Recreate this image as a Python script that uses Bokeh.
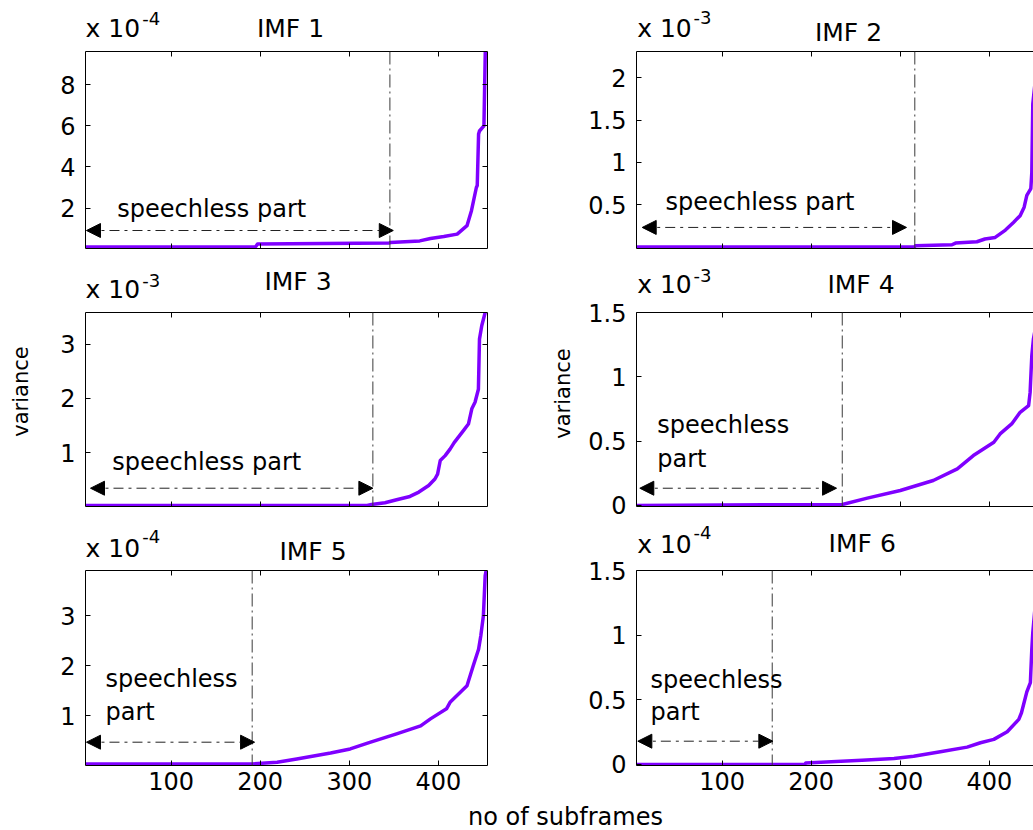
import math
from bokeh.plotting import figure
from bokeh.models import Range1d, FixedTicker, Label, Arrow, NormalHead, Span, LinearAxis
from bokeh.layouts import column, row
from bokeh.embed import file_html
from bokeh.resources import INLINE

# ---------------- data ----------------
x_ticks = [100, 200, 300, 400]
x_tick_labels = ["100", "200", "300", "400"]

titles = ["IMF 1", "IMF 2", "IMF 3", "IMF 4", "IMF 5", "IMF 6"]
exponents = ["-4", "-3", "-3", "-3", "-4", "-4"]

# IMF 1 (x 1e-4)
imf1_x = [4, 195, 197, 345, 346, 379, 391, 406, 421, 432, 437, 442.5, 443.5, 445, 446, 451, 452.5]
imf1_y = [0.1, 0.12, 0.25, 0.3, 0.32, 0.40, 0.52, 0.61, 0.73, 1.14, 1.87, 3.0, 3.1, 5.6, 5.75, 6.0, 9.6]
# IMF 2 (x 1e-3)
imf2_x = [4, 316, 317, 358, 362, 386, 395, 406.5, 418, 427, 434.5, 439, 442, 446.5, 447.6, 448.7, 455]
imf2_y = [0.0, 0.0, 0.014, 0.026, 0.046, 0.062, 0.094, 0.113, 0.2, 0.29, 0.37, 0.47, 0.61, 0.69, 0.88, 1.69, 2.31]
# IMF 3 (x 1e-3)
imf3_x = [4, 320, 325, 340, 353, 368, 378, 389, 396, 399, 402, 407.5, 413, 417.6, 428, 433.6, 437.4, 441, 444.8, 446, 448.6, 452.4]
imf3_y = [0.033, 0.033, 0.051, 0.083, 0.14, 0.20, 0.28, 0.40, 0.52, 0.61, 0.86, 0.95, 1.07, 1.19, 1.41, 1.53, 1.81, 1.93, 2.17, 3.09, 3.34, 3.58]
# IMF 4 (x 1e-3)
imf4_x = [4, 235, 263, 300, 337, 364, 382, 405, 412, 425, 434.5, 444, 445.7, 447.6, 449.4, 455]
imf4_y = [0.0, 0.008, 0.057, 0.116, 0.194, 0.285, 0.388, 0.491, 0.556, 0.634, 0.724, 0.776, 0.879, 1.164, 1.293, 1.5]
# IMF 5 (x 1e-4)
imf5_x = [4, 191, 219, 241, 279, 301, 323, 353, 380, 391, 409, 413, 432, 439, 445, 447.5, 450.4, 452.4, 453.5]
imf5_y = [0.04, 0.04, 0.075, 0.14, 0.26, 0.34, 0.47, 0.64, 0.80, 0.94, 1.14, 1.27, 1.60, 2.0, 2.33, 2.60, 3.0, 3.8, 3.9]
# IMF 6 (x 1e-4)
imf6_x = [4, 193, 194, 257, 293, 315, 345, 375, 390, 405, 420, 433, 436, 442, 446, 447.6, 448.7, 455]
imf6_y = [0.0, 0.0, 0.012, 0.033, 0.047, 0.064, 0.098, 0.134, 0.168, 0.194, 0.253, 0.349, 0.40, 0.561, 0.633, 0.89, 1.02, 1.5]

y_ticks = [[2, 4, 6, 8], [0.5, 1, 1.5, 2], [1, 2, 3], [0, 0.5, 1, 1.5], [1, 2, 3], [0, 0.5, 1, 1.5]]
y_tick_labels = [["2", "4", "6", "8"], ["0.5", "1", "1.5", "2"], ["1", "2", "3"],
                 ["0", "0.5", "1", "1.5"], ["1", "2", "3"], ["0", "0.5", "1", "1.5"]]
y_limits = [(0.03, 9.62), (-0.018, 2.31), (0.015, 3.58), (-0.008, 1.5), (0.01, 3.9), (-0.008, 1.5)]

# speechless-part boundary (frame index) and arrow
boundaries = [345.5, 316.3, 326.4, 234.9, 191.0, 156.3]
arrow_start = [5.1, 10.4, 9.6, 7.7, 5.1, 5.5]
arrow_end = [349.3, 307.0, 326.4, 228.5, 193.7, 157.0]
arrow_level = [0.906, 0.231, 0.351, 0.134, 0.475, 0.18]

series_x = [imf1_x, imf2_x, imf3_x, imf4_x, imf5_x, imf6_x]
series_y = [imf1_y, imf2_y, imf3_y, imf4_y, imf5_y, imf6_y]

# ---------------- styling / layout ----------------
FONT = "DejaVu Sans"
CURVE = "#7f00ff"
PAGE_W = 1033
COL_X = [0, 497]
COL_W = [497, 536]
COL_XR = [(4, 455), (4, 449.5)]
COL_BL = [85, 139]
COL_BR = [10, 0]
# per column: strip heights, row figure (top border, frame height, bottom border)
COL_STRIPS = [[49, 60, 60], [49, 50, 38]]
COL_ROWS = [[(2, 197, 2), (2, 194, 2), (2, 195, 35)],
            [(2, 197, 2), (12, 194, 13), (13, 195, 35)]]
BOTTOM_TOP = 800
BOTTOM_H = 30


def shift(size):
    # rendered alphabetic baseline sits ~0.29 em below the anchor
    return -0.29 * size


# strip texts: (column, strip, text, page_x, page_y_baseline, size, align)
strip_texts = [
    (0, 0, "x 10", 85, 35, 25, "left"), (0, 0, exponents[0], 141.7, 23, 18, "left"),
    (0, 0, titles[0], 290, 35, 25, "center"),
    (1, 0, "x 10", 636.7, 35, 25, "left"), (1, 0, exponents[1], 693, 22, 18, "left"),
    (1, 0, titles[1], 848, 39, 25, "center"),
    (0, 1, "x 10", 85, 296.7, 25, "left"), (0, 1, exponents[2], 141.7, 285, 18, "left"),
    (0, 1, titles[2], 297.5, 288, 25, "center"),
    (1, 1, "x 10", 636.7, 291.5, 25, "left"), (1, 1, exponents[3], 693, 280, 18, "left"),
    (1, 1, titles[3], 860.5, 291.5, 25, "center"),
    (0, 2, "x 10", 85, 555, 25, "left"), (0, 2, exponents[4], 141.7, 541.7, 18, "left"),
    (0, 2, titles[4], 312.5, 558, 25, "center"),
    (1, 2, "x 10", 636.7, 551, 25, "left"), (1, 2, exponents[5], 693, 537.7, 18, "left"),
    (1, 2, titles[5], 861.7, 550, 25, "center"),
]

# in-plot texts: (panel, text, page_x, page_y_baseline, size)
plot_texts = [
    (0, "speechless part", 116.7, 215, 24),
    (1, "speechless part", 665, 208.3, 24),
    (2, "speechless part", 111.7, 468.3, 24),
    (3, "speechless", 656.7, 431.7, 24), (3, "part", 656.7, 465, 24),
    (4, "speechless", 105, 685, 24), (4, "part", 105, 718.3, 24),
    (5, "speechless", 650, 686.7, 24), (5, "part", 650, 718.3, 24),
]

# y labels: (panel, page_x_center, page_y_center, size)
ylabels = [(2, 20, 391, 21), (3, 562, 393, 21)]


def style_axis(ax, ticks, labels, show, standoff):
    ax.ticker = FixedTicker(ticks=ticks)
    ax.major_tick_in = 5
    ax.major_tick_out = 0
    ax.minor_tick_line_color = None
    ax.axis_line_color = "black"
    ax.axis_line_width = 1
    ax.major_tick_line_color = "black"
    if show:
        ax.major_label_overrides = {t: l for t, l in zip(ticks, labels)}
        ax.major_label_text_font = FONT
        ax.major_label_text_font_size = "24px"
        ax.major_label_text_color = "black"
        ax.major_label_standoff = standoff
    else:
        ax.major_label_overrides = {t: "" for t in ticks}
        ax.major_label_text_font_size = "1px"
        ax.major_label_standoff = 0


def blank_figure(width, height):
    f = figure(width=width, height=height, x_range=Range1d(0, width), y_range=Range1d(0, height),
               output_backend="svg", toolbar_location=None, tools="", title=None,
               x_axis_type=None, y_axis_type=None, min_border=0,
               background_fill_color="white", border_fill_color="white")
    f.outline_line_color = None
    f.grid.visible = False
    return f


# compute vertical positions per column
strip_tops = [[], []]
row_tops = [[], []]
for c in range(2):
    y = 0
    for r in range(3):
        strip_tops[c].append(y)
        y += COL_STRIPS[c][r]
        row_tops[c].append(y)
        bt, fh, bb = COL_ROWS[c][r]
        y += bt + fh + bb

figs = [None] * 6
offsets = [None] * 6
for i in range(6):
    r, c = divmod(i, 2)
    bt, fh, bb = COL_ROWS[c][r]
    p = figure(width=COL_W[c], height=bt + fh + bb, x_range=Range1d(*COL_XR[c]),
               y_range=Range1d(*y_limits[i]),
               output_backend="svg", toolbar_location=None, tools="", title=None,
               x_axis_type=None, y_axis_type=None,
               min_border_left=COL_BL[c], min_border_right=COL_BR[c],
               min_border_top=bt, min_border_bottom=bb,
               background_fill_color="white", border_fill_color="white")
    p.outline_line_color = None
    p.grid.visible = False

    bottom = LinearAxis()
    style_axis(bottom, x_ticks, x_tick_labels, r == 2, 6)
    p.add_layout(bottom, "below")
    top = LinearAxis()
    style_axis(top, x_ticks, x_tick_labels, False, 0)
    p.add_layout(top, "above")
    left = LinearAxis()
    style_axis(left, y_ticks[i], y_tick_labels[i], True, 10)
    p.add_layout(left, "left")
    if c == 0:
        right = LinearAxis()
        style_axis(right, y_ticks[i], y_tick_labels[i], False, 0)
        p.add_layout(right, "right")

    offsets[i] = (COL_X[c], row_tops[c][r])

    p.line(series_x[i], series_y[i], line_color=CURVE, line_width=3.5, line_join="round")
    p.add_layout(Span(location=boundaries[i], dimension="height", line_color="#3a3a3a",
                      line_width=1, line_dash="13 4 2 4"))
    p.add_layout(Arrow(start=NormalHead(size=14, fill_color="black", line_color="black"),
                       end=NormalHead(size=14, fill_color="black", line_color="black"),
                       x_start=arrow_start[i], y_start=arrow_level[i],
                       x_end=arrow_end[i], y_end=arrow_level[i],
                       line_color="#222222", line_width=1, line_dash="10 5 3 5"))
    figs[i] = p

for (k, txt, px, py, size) in plot_texts:
    ox, oy = offsets[k]
    figs[k].add_layout(Label(x=px - ox, y=py - oy + shift(size), x_units="canvas", y_units="canvas",
                             text=txt, text_font=FONT, text_font_size=f"{size}px",
                             text_align="left", text_baseline="alphabetic", text_color="black"))

for (k, px, py, size) in ylabels:
    ox, oy = offsets[k]
    figs[k].add_layout(Label(x=px - ox, y=py - oy, x_units="canvas", y_units="canvas",
                             text="variance", text_font=FONT, text_font_size=f"{size}px",
                             text_align="center", text_baseline="middle", angle=math.pi / 2,
                             text_color="black"), "left")

strips = [[blank_figure(COL_W[c], h) for h in COL_STRIPS[c]] for c in range(2)]
for (c, s, txt, px, py, size, align) in strip_texts:
    strips[c][s].add_layout(Label(x=px - COL_X[c], y=py - strip_tops[c][s] + shift(size),
                                  x_units="canvas", y_units="canvas",
                                  text=txt, text_font=FONT, text_font_size=f"{size}px",
                                  text_align=align, text_baseline="alphabetic", text_color="black"))

bottom_strip = blank_figure(PAGE_W, BOTTOM_H)
bottom_strip.add_layout(Label(x=565, y=823.5 - BOTTOM_TOP + shift(24), x_units="canvas", y_units="canvas",
                              text="no of subframes", text_font=FONT, text_font_size="24px",
                              text_align="center", text_baseline="alphabetic", text_color="black"))

cols = []
for c in range(2):
    items = []
    for r in range(3):
        items.append(strips[c][r])
        items.append(figs[2 * r + c])
    cols.append(column(*items))

layout = column(row(cols[0], cols[1]), bottom_strip)

open("out.html", "w").write(file_html(layout, INLINE))
